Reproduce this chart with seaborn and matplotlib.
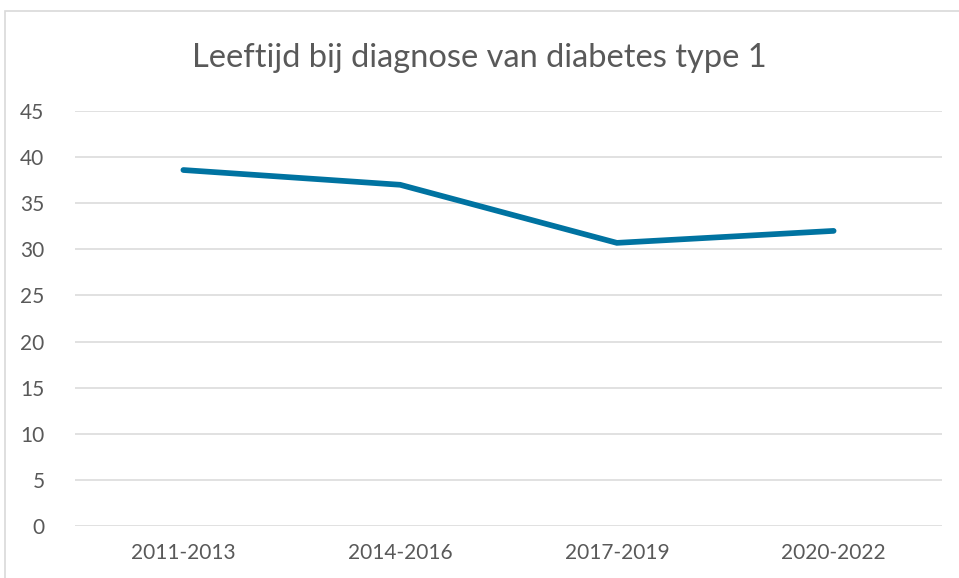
import matplotlib
matplotlib.use("Agg")
import matplotlib.pyplot as plt
import seaborn as sns
import pandas as pd
from matplotlib.patches import Rectangle

periods = ["2011-2013", "2014-2016", "2017-2019", "2020-2022"]
ages = [38.6, 37.0, 30.7, 32.0]
yticks = [0, 5, 10, 15, 20, 25, 30, 35, 40, 45]

sns.set_theme(style="white")
plt.rcParams['font.family'] = ['Lato', 'DejaVu Sans']

df = pd.DataFrame({"periode": periods, "leeftijd": ages})

fig = plt.figure(figsize=(9.59, 5.78), dpi=100)
ax = fig.add_axes([75/959, 1-526/578, (942-75)/959, (526-111)/578])

sns.lineplot(data=df, x="periode", y="leeftijd", ax=ax, color="#0073A1",
             linewidth=4.1, solid_capstyle="round", solid_joinstyle="miter", sort=False)

ax.set_xlim(-0.5, 3.5)
ax.set_ylim(0, 45)
ax.set_yticks(yticks)
ax.yaxis.grid(True, color="#D9D9D9", linewidth=1.1)
ax.set_axisbelow(True)
for s in ax.spines.values():
    s.set_visible(False)
ax.set_xlabel("")
ax.set_ylabel("")
ax.tick_params(axis="both", length=0, labelsize=15, colors="#595959")
ax.tick_params(axis="y", pad=22)
ax.tick_params(axis="x", pad=12)

fig.text(0.5, 1-58/578, "Leeftijd bij diagnose van diabetes type 1", ha="center", va="center",
         fontsize=23.5, color="#595959")

fig.patches.append(Rectangle((5/959, -0.1), 1.2, 1-11/578+0.1, transform=fig.transFigure,
                             fill=False, edgecolor="#D9D9D9", linewidth=1.2))

fig.savefig("out.png", dpi=100)
